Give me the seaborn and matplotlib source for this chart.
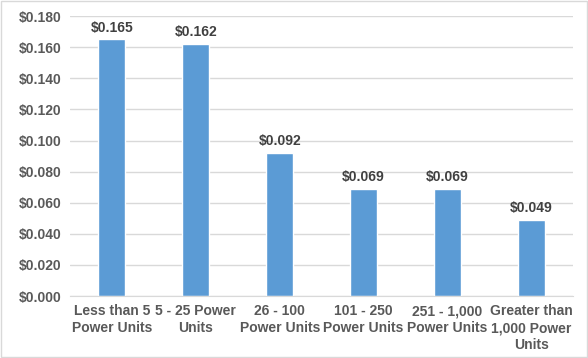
import matplotlib
matplotlib.use("Agg")
import matplotlib.pyplot as plt
import seaborn as sns
import pandas as pd
from matplotlib.ticker import FuncFormatter, MultipleLocator

categories = ["Less than 5\nPower Units", "5 - 25 Power\nUnits", "26 - 100\nPower Units",
              "101 - 250\nPower Units", "251 - 1,000\nPower Units", "Greater than\n1,000 Power\nUnits"]
costs = [0.165, 0.162, 0.092, 0.069, 0.069, 0.049]

df = pd.DataFrame({"category": categories, "cost": costs})

sns.set_style("white")
plt.rcParams['font.family'] = ['Liberation Sans', 'DejaVu Sans']
text_color = "#595959"

fig = plt.figure(figsize=(5.88, 3.58), dpi=100)
ax = fig.add_axes([0.119, 0.173, 0.856, 0.782])

sns.barplot(data=df, x="category", y="cost", color="#5B9BD5", saturation=1,
            width=0.32, ax=ax)

ax.set_ylim(0, 0.18)
ax.yaxis.set_major_locator(MultipleLocator(0.02))
ax.yaxis.set_major_formatter(FuncFormatter(lambda v, p: f"${v:.3f}"))
ax.grid(axis="y", color="#D9D9D9", linewidth=1)
ax.set_axisbelow(True)
for s in ["top", "right", "left"]:
    ax.spines[s].set_visible(False)
ax.spines["bottom"].set_color("#D9D9D9")
ax.set_xlabel("")
ax.set_ylabel("")
ax.tick_params(axis="both", length=0, labelsize=10, labelcolor=text_color, pad=6)
for lab in ax.get_xticklabels() + ax.get_yticklabels():
    lab.set_fontweight("bold")
for lab in ax.get_xticklabels():
    lab.set_linespacing(1.25)
    lab.set_verticalalignment("top")

for bar, v in zip(ax.patches, costs):
    ax.annotate(f"${v:.3f}", (bar.get_x() + bar.get_width() / 2, v),
                xytext=(0, 3.5), textcoords="offset points", ha="center", va="bottom",
                fontsize=10, fontweight="bold", color="#404040")

fig.patches.append(plt.Rectangle((0.002, 0.002), 0.996, 0.996, transform=fig.transFigure,
                                 fill=False, edgecolor="#D9D9D9", linewidth=1))
fig.savefig("out.png", dpi=100)
